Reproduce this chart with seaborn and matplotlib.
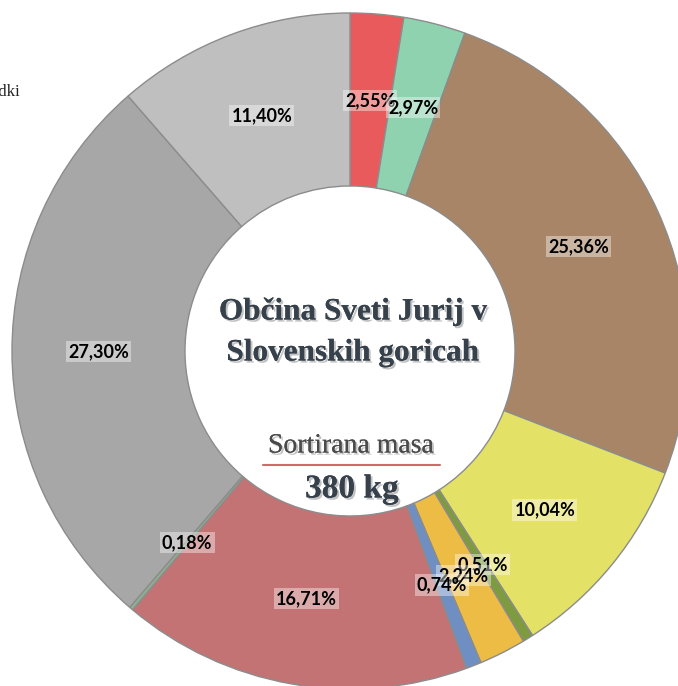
import matplotlib
matplotlib.use("Agg")
import matplotlib.pyplot as plt
import matplotlib.patheffects as pe
import seaborn as sns

sns.set_theme(style="white")

# slices, clockwise from 12 o'clock
shares = [2.55, 2.97, 25.36, 10.04, 0.51, 2.24, 0.74, 16.71, 0.18, 27.30, 11.40]
colors = ["#E85A5C", "#8FD2B0", "#A88566", "#E3E266", "#7E9B3F", "#ECBC45",
          "#6F8FC2", "#C47374", "#8DB08E", "#A7A7A7", "#BFBFBF"]
title_lines = ["Občina Sveti Jurij v", "Slovenskih goricah"]
mass_label = "Sortirana masa"
mass_value = "380 kg"
legend_stub = "Ostali odpadki"

W, H = 678, 686
fig = plt.figure(figsize=(W / 100, H / 100), dpi=100)
ax = fig.add_axes([0, 0, 1, 1])

# donut geometry in pixels (center / radii), converted to data units
cx, cy, R, r_in = 350, 351, 338, 165
width = (R - r_in) / R

wedges, texts, autotexts = ax.pie(
    shares,
    colors=colors,
    startangle=90,
    counterclock=False,
    radius=1.0,
    autopct=lambda p: f"{p:.2f}%".replace(".", ","),
    pctdistance=1 - width / 2,
    wedgeprops=dict(width=width, edgecolor="#8C8C8C", linewidth=1.0),
    textprops=dict(fontsize=13, fontweight="bold", color="black", family=["Lato", "DejaVu Sans"]),
)
for t in autotexts:
    t.set_bbox(dict(facecolor="white", alpha=0.4, edgecolor="none", pad=1.5))

ax.set_aspect("equal")
ax.set_xlim(-cx / R, (W - cx) / R)
ax.set_ylim(-(H - cy) / R, cy / R)
ax.axis("off")

shadow = [pe.withSimplePatchShadow(offset=(1.5, -1.5), shadow_rgbFace="#9A9A9A", alpha=0.6), pe.Normal()]
serif = ["Liberation Serif", "DejaVu Serif"]

def px(x, y):
    return (x - cx) / R, (cy - y) / R

ax.text(*px(353, 312), title_lines[0], ha="center", va="center", fontsize=22.5,
        fontweight="bold", color="#36414C", family=serif, path_effects=shadow)
ax.text(*px(353, 353), title_lines[1], ha="center", va="center", fontsize=22.5,
        fontweight="bold", color="#36414C", family=serif, path_effects=shadow)
ax.text(*px(351, 446), mass_label, ha="center", va="center", fontsize=20,
        color="#4A4A4A", family=serif, path_effects=shadow)
x0, yl = px(263, 465)
x1, _ = px(440, 465)
ax.plot([x0, x1], [yl, yl], color="#D06A6A", lw=1.5)
ax.text(*px(352, 489), mass_value, ha="center", va="center", fontsize=24,
        fontweight="bold", color="#36414C", family=serif, path_effects=shadow)

fig.text(20 / W, 1 - 92 / H, legend_stub, ha="right", va="center", fontsize=12,
         color="#222222", family=serif)

fig.savefig("out.png", dpi=100)
